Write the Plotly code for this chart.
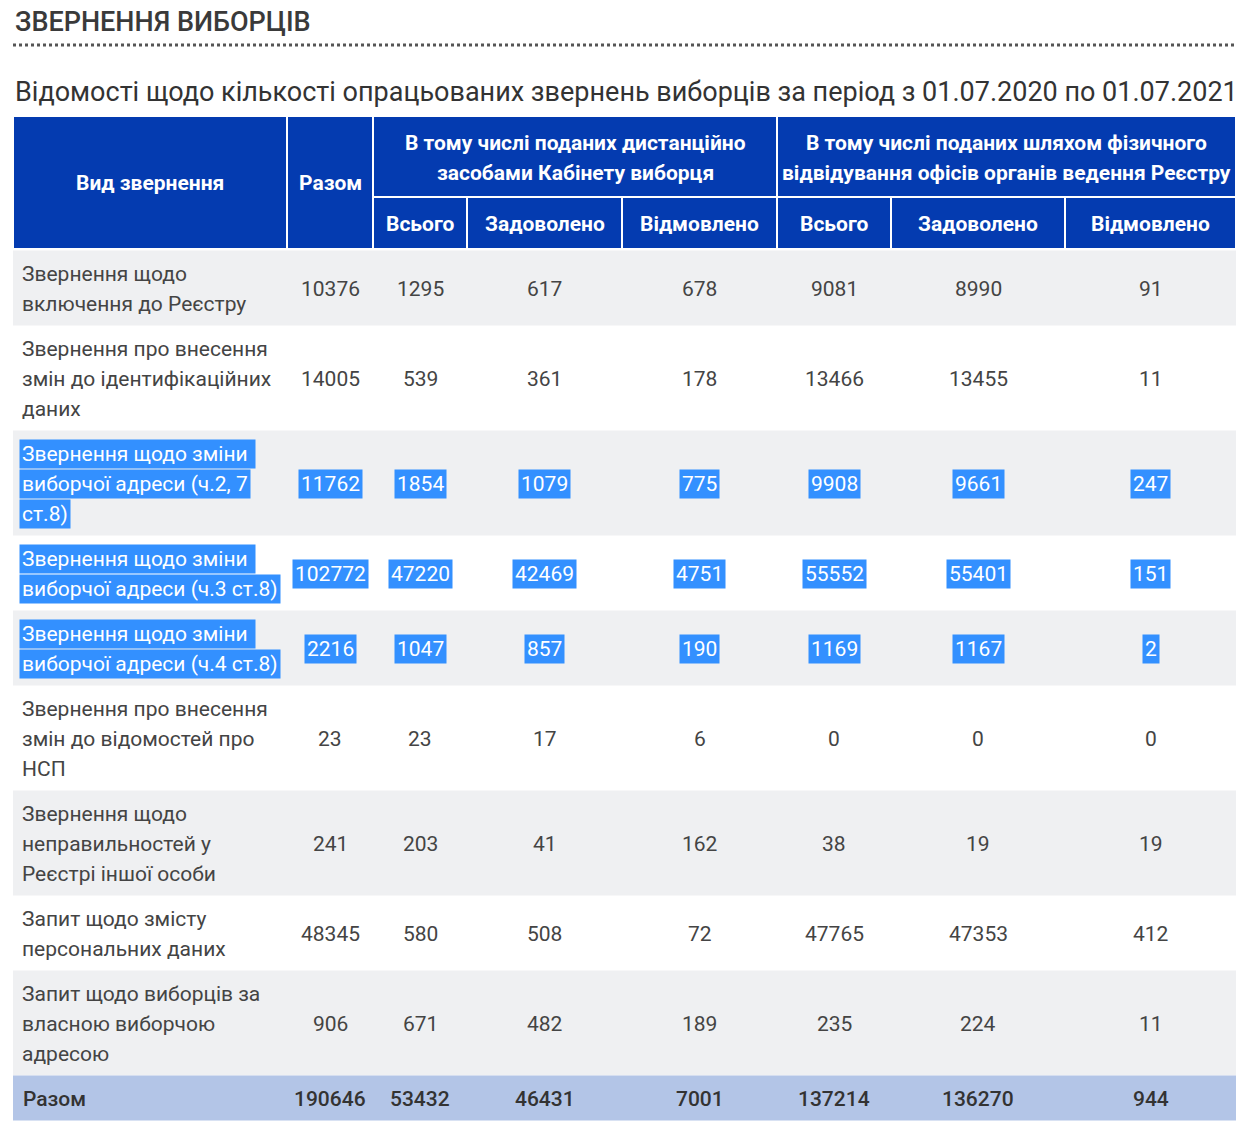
import plotly.graph_objects as go

# ---- data ----
title = "ЗВЕРНЕННЯ ВИБОРЦІВ"
subtitle = ("Відомості щодо кількості опрацьованих звернень виборців "
            "за період з 01.07.2020 по 01.07.2021")

head_kind = "Вид звернення"
head_total = "Разом"
group_headers = [
    "В тому числі поданих дистанційно<br>засобами Кабінету виборця",
    "В тому числі поданих шляхом фізичного<br>відвідування офісів органів ведення Реєстру",
]
sub_headers = ["Всього", "Задоволено", "Відмовлено"]

categories = [
    "Звернення щодо<br>включення до Реєстру",
    "Звернення про внесення<br>змін до ідентифікаційних<br>даних",
    "Звернення щодо зміни <br>виборчої адреси (ч.2, 7<br>ст.8)",
    "Звернення щодо зміни <br>виборчої адреси (ч.3 ст.8)",
    "Звернення щодо зміни <br>виборчої адреси (ч.4 ст.8)",
    "Звернення про внесення<br>змін до відомостей про<br>НСП",
    "Звернення щодо<br>неправильностей у<br>Реєстрі іншої особи",
    "Запит щодо змісту<br>персональних даних",
    "Запит щодо виборців за<br>власною виборчою<br>адресою",
]
totals = [10376, 14005, 11762, 102772, 2216, 23, 241, 48345, 906]
remote_all = [1295, 539, 1854, 47220, 1047, 23, 203, 580, 671]
remote_ok = [617, 361, 1079, 42469, 857, 17, 41, 508, 482]
remote_no = [678, 178, 775, 4751, 190, 6, 162, 72, 189]
office_all = [9081, 13466, 9908, 55552, 1169, 0, 38, 47765, 235]
office_ok = [8990, 13455, 9661, 55401, 1167, 0, 19, 47353, 224]
office_no = [91, 11, 247, 151, 2, 0, 19, 412, 11]

sum_label = "Разом"
sum_row = [190646, 53432, 46431, 7001, 137214, 136270, 944]

selected_rows = [2, 3, 4]  # rows shown with the browser text selection

# ---- layout constants (page pixels) ----
W, H = 1248, 1133
edges = [13, 287, 373, 467, 622, 777, 891, 1065, 1236]
head_top, head_mid, head_bot = 116, 197, 249
body_top = 250.5
line_h = 30
sum_h = 45

BLUE = "#043bb0"
GRAY = "#eff0f2"
SUMBG = "#b3c5e7"
SEL = "#3390ff"
TXT = "#444444"
FONT = "Roboto"
FS = 21

columns = [totals, remote_all, remote_ok, remote_no, office_all, office_ok, office_no]

shapes = []
annotations = []


def rect(x0, x1, y0, y1, fill, border=None):
    shapes.append(dict(type="rect", xref="x", yref="y", x0=x0, x1=x1, y0=y0, y1=y1,
                       fillcolor=fill, layer="below",
                       line=dict(color=border or fill, width=2 if border else 0)))


def text(x, y, s, size=FS, color=TXT, weight=400, xanchor="center", bg=None):
    annotations.append(dict(x=x, y=y, xref="x", yref="y", text=s, showarrow=False,
                            xanchor=xanchor, yanchor="middle", align="left",
                            font=dict(family=FONT, size=size, color=color, weight=weight),
                            bgcolor=bg, borderpad=2))


def lines(x, yc, s, **kw):
    parts = s.split("<br>")
    n = len(parts)
    for i, p in enumerate(parts):
        text(x, yc + (i - (n - 1) / 2) * line_h, p, **kw)


# title + dotted rule
text(12, 22, title, size=27, color="#3a3a3a", weight=500, xanchor="left")
shapes.append(dict(type="line", xref="x", yref="y", x0=13, x1=1237, y0=45, y1=45,
                   line=dict(color="#555555", width=3, dash="dot")))
text(12, 92, subtitle, size=27, color="#333333", xanchor="left")

# header
hdr = dict(color="white", weight=700)
rect(edges[0], edges[1], head_top, head_bot, BLUE, "white")
lines((edges[0] + edges[1]) / 2, (head_top + head_bot) / 2, head_kind, **hdr)
rect(edges[1], edges[2], head_top, head_bot, BLUE, "white")
lines((edges[1] + edges[2]) / 2, (head_top + head_bot) / 2, head_total, **hdr)
for g, gh in enumerate(group_headers):
    a, b = edges[2 + 3 * g], edges[5 + 3 * g]
    rect(a, b, head_top, head_mid, BLUE, "white")
    lines((a + b) / 2, (head_top + head_mid) / 2 + 1, gh, **hdr)
    for k, sh in enumerate(sub_headers):
        c0, c1 = edges[2 + 3 * g + k], edges[3 + 3 * g + k]
        rect(c0, c1, head_mid, head_bot, BLUE, "white")
        lines((c0 + c1) / 2, (head_mid + head_bot) / 2 + 0.5, sh, **hdr)

# body
y = body_top
for r, cat in enumerate(categories):
    n = len(cat.split("<br>"))
    h = n * line_h + 15
    if r % 2 == 0:
        rect(edges[0], edges[-1], y, y + h, GRAY)
    sel = r in selected_rows
    style = dict(color="white", bg=SEL) if sel else dict(color=TXT)
    yc = y + h / 2 + 1
    lines(18.5, yc, cat, xanchor="left", **style)
    for c, col in enumerate(columns):
        text((edges[c + 1] + edges[c + 2]) / 2, yc, str(col[r]), **style)
    y += h

# total row
rect(edges[0], edges[-1], y, y + sum_h, SUMBG)
yc = y + sum_h / 2 + 1
text(20, yc, sum_label, color="#333333", weight=500, xanchor="left")
for c, v in enumerate(sum_row):
    text((edges[c + 1] + edges[c + 2]) / 2, yc, str(v), color="#333333", weight=500)

fig = go.Figure()
fig.update_layout(
    width=W, height=H,
    margin=dict(l=0, r=0, t=0, b=0),
    paper_bgcolor="white", plot_bgcolor="white",
    xaxis=dict(range=[0, W], visible=False, fixedrange=True),
    yaxis=dict(range=[H, 0], visible=False, fixedrange=True),
    shapes=shapes, annotations=annotations,
    showlegend=False,
)
# drop the page's default body margin so the figure fills the window exactly
fig.write_html("out.html", post_script="document.body.style.margin='0';",
               config={"displayModeBar": False})
